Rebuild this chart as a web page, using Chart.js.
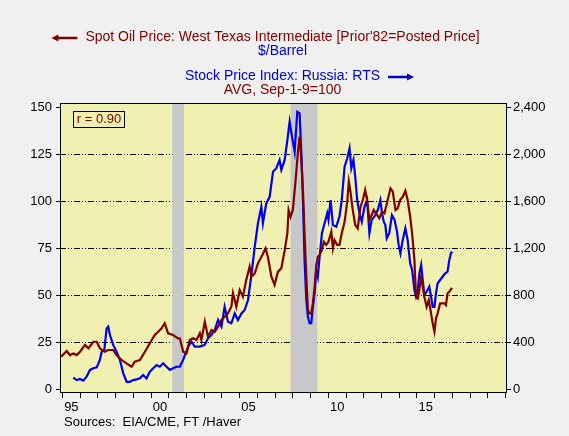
<!DOCTYPE html>
<html>
<head>
<meta charset="utf-8">
<script src="https://cdn.jsdelivr.net/npm/chart.js@4.4.0/dist/chart.umd.min.js"></script>
<style>
  html, body { margin: 0; padding: 0; background: #f0f0f0; }
  #wrap { width: 569px; height: 436px; }
</style>
</head>
<body>
<div id="wrap"><canvas id="oilChart" width="569" height="436"></canvas></div>
<script>
// Spot oil price, WTI, $/barrel (left axis), dates as decimal years
const oilDates = [1994.92, 1995.24, 1995.42, 1995.61, 1995.80, 1995.99, 1996.27, 1996.46, 1996.74, 1996.93,
  1997.11, 1997.39, 1997.58, 1997.86, 1998.05, 1998.33, 1998.61, 1998.90, 1999.08, 1999.37,
  1999.65, 1999.93, 2000.21, 2000.40, 2000.59, 2000.77, 2000.96, 2001.24, 2001.52, 2001.62,
  2001.81, 2002.00, 2002.18, 2002.37, 2002.56, 2002.75, 2002.84, 2003.03, 2003.21, 2003.41,
  2003.59, 2003.78, 2003.97, 2004.15, 2004.34, 2004.53, 2004.62, 2004.81, 2005.00, 2005.18,
  2005.37, 2005.56, 2005.66, 2005.85, 2006.03, 2006.28, 2006.46, 2006.59, 2006.79, 2006.97,
  2007.16, 2007.35, 2007.54, 2007.69, 2007.76, 2007.87, 2008.00, 2008.14, 2008.28, 2008.38,
  2008.48, 2008.57, 2008.66, 2008.76, 2008.85, 2008.94, 2009.04, 2009.13, 2009.23, 2009.32,
  2009.41, 2009.51, 2009.64, 2009.75, 2009.88, 2010.01, 2010.17, 2010.26, 2010.35, 2010.50,
  2010.63, 2010.76, 2010.92, 2011.07, 2011.16, 2011.25, 2011.38, 2011.52, 2011.66, 2011.82,
  2011.95, 2012.08, 2012.19, 2012.32, 2012.45, 2012.56, 2012.69, 2012.88, 2013.04, 2013.17,
  2013.35, 2013.51, 2013.64, 2013.79, 2013.92, 2014.05, 2014.20, 2014.35, 2014.48, 2014.62,
  2014.73, 2014.86, 2014.95, 2015.05, 2015.14, 2015.24, 2015.33, 2015.42, 2015.55, 2015.67,
  2015.80, 2015.89, 2015.99, 2016.08, 2016.17, 2016.31, 2016.42, 2016.55, 2016.64, 2016.73,
  2016.83, 2016.98];
const oilValues = [17.3, 20.4, 18.2, 19.1, 18.2, 20.0, 23.6, 21.8, 25.3, 25.3,
  21.8, 20.0, 20.9, 20.9, 18.2, 15.6, 13.8, 12.0, 14.7, 15.6,
  20.0, 24.5, 28.9, 30.6, 32.4, 35.1, 29.8, 28.9, 27.1, 27.1,
  20.0, 19.1, 26.2, 27.1, 26.2, 29.8, 26.2, 36.0, 28.0, 31.5,
  30.6, 33.3, 36.9, 38.6, 40.4, 43.9, 51.1, 43.9, 52.8, 49.3,
  58.1, 65.2, 59.9, 61.7, 67.0, 71.4, 75.0, 70.5, 59.9, 55.5,
  62.6, 64.4, 74.0, 83.0, 95.4, 91.8, 95.4, 109.6, 125.5, 134.4,
  122.0, 106.0, 83.0, 59.9, 42.2, 40.4, 40.4, 45.7, 54.6, 65.2,
  70.5, 71.4, 74.1, 78.5, 76.8, 78.5, 83.8, 75.0, 79.4, 76.8,
  76.8, 83.0, 89.1, 99.8, 110.4, 105.1, 95.4, 87.4, 85.6, 97.1,
  100.7, 106.0, 100.7, 90.1, 92.7, 95.4, 93.6, 91.0, 94.5, 93.6,
  100.7, 106.9, 105.1, 95.4, 96.3, 100.7, 102.4, 105.6, 100.7, 91.8,
  83.0, 68.8, 49.3, 48.3, 52.8, 59.9, 54.6, 49.3, 43.9, 47.5,
  40.4, 35.1, 30.6, 37.8, 40.4, 45.7, 45.7, 45.7, 44.8, 51.1,
  51.9, 54.0];

// Russia RTS stock index, Sep-1-95 = 100 (right axis)
const rtsDates = [1995.61, 1995.80, 1995.99, 1996.17, 1996.36, 1996.55, 1996.74, 1996.93, 1997.11, 1997.21,
  1997.36, 1997.49, 1997.58, 1997.68, 1997.86, 1997.96, 1998.05, 1998.24, 1998.43, 1998.62,
  1998.80, 1998.99, 1999.18, 1999.37, 1999.55, 1999.74, 1999.93, 2000.12, 2000.31, 2000.49,
  2000.68, 2000.87, 2001.06, 2001.24, 2001.43, 2001.62, 2001.81, 2002.09, 2002.28, 2002.46,
  2002.75, 2003.03, 2003.21, 2003.40, 2003.59, 2003.78, 2003.97, 2004.15, 2004.34, 2004.53,
  2004.72, 2004.90, 2005.10, 2005.28, 2005.47, 2005.66, 2005.85, 2006.03, 2006.22, 2006.31,
  2006.50, 2006.69, 2006.88, 2007.07, 2007.25, 2007.35, 2007.54, 2007.69, 2007.82, 2007.95,
  2008.10, 2008.25, 2008.38, 2008.48, 2008.57, 2008.66, 2008.76, 2008.85, 2008.94, 2009.04,
  2009.13, 2009.23, 2009.32, 2009.41, 2009.51, 2009.64, 2009.79, 2009.94, 2010.01, 2010.13,
  2010.26, 2010.45, 2010.63, 2010.76, 2010.92, 2011.07, 2011.20, 2011.30, 2011.42, 2011.52,
  2011.63, 2011.76, 2011.89, 2012.04, 2012.19, 2012.32, 2012.45, 2012.60, 2012.79, 2012.94,
  2013.03, 2013.13, 2013.22, 2013.30, 2013.44, 2013.59, 2013.74, 2013.88, 2013.97, 2014.07,
  2014.20, 2014.35, 2014.48, 2014.62, 2014.73, 2014.86, 2014.95, 2015.05, 2015.14, 2015.24,
  2015.33, 2015.42, 2015.55, 2015.70, 2015.80, 2015.89, 2015.99, 2016.08, 2016.17, 2016.31,
  2016.45, 2016.60, 2016.73, 2016.83, 2016.92, 2017.00];
const rtsValues = [99, 78, 88, 74, 107, 165, 179, 187, 250, 320,
  334, 518, 533, 462, 378, 349, 320, 250, 136, 64,
  64, 78, 85, 93, 122, 93, 150, 179, 206, 192,
  221, 192, 165, 179, 192, 192, 250, 363, 405, 363,
  363, 378, 434, 462, 504, 590, 533, 702, 576, 562,
  646, 590, 646, 675, 760, 973, 1214, 1413, 1554, 1413,
  1582, 1638, 1851, 1882, 1952, 1867, 1952, 2122, 2277, 2150,
  2022, 2363, 2349, 2008, 1611, 1101, 760, 618, 562, 562,
  702, 818, 1016, 958, 1128, 1328, 1413, 1498, 1442, 1611,
  1398, 1384, 1469, 1611, 1894, 1966, 2051, 1882, 1952, 1810,
  1611, 1498, 1426, 1554, 1611, 1328, 1442, 1469, 1526, 1611,
  1498, 1426, 1398, 1285, 1328, 1483, 1442, 1341, 1229, 1157,
  1270, 1370, 1270, 1072, 1016, 845, 789, 845, 987, 1058,
  930, 803, 830, 874, 789, 702, 702, 818, 902, 930,
  958, 987, 1002, 1101, 1157, 1171];

// US recessions (shaded), decimal years
const recessions = [[2001.19, 2001.85], [2007.87, 2009.38]];

// axis ticks
const yearTicks = [1995, 1996, 1997, 1998, 1999, 2000, 2001, 2002, 2003, 2004, 2005, 2006, 2007,
  2008, 2009, 2010, 2011, 2012, 2013, 2014, 2015, 2016, 2017, 2018, 2019, 2020];
const yearLabels = { 1995: '95', 2000: '00', 2005: '05', 2010: '10', 2015: '15' };
const oilTicks = [0, 25, 50, 75, 100, 125, 150];
const rtsTicks = [0, 400, 800, 1200, 1600, 2000, 2400];

const DARKRED = '#800000';
const BLUE = '#0000cc';
const PLOTBG = '#f0f0b0';
const FONT = '"Liberation Sans", Arial, sans-serif';

function toPoints(dates, values) {
    return dates.map((d, i) => ({ x: d, y: values[i] }));
}

function arrow(ctx, x1, x2, y, color, headLeft) {
    ctx.save();
    ctx.strokeStyle = color;
    ctx.fillStyle = color;
    ctx.lineWidth = 2.5;
    ctx.beginPath();
    ctx.moveTo(headLeft ? x1 + 5 : x1, y);
    ctx.lineTo(headLeft ? x2 : x2 - 5, y);
    ctx.stroke();
    ctx.beginPath();
    if (headLeft) {
        ctx.moveTo(x1, y); ctx.lineTo(x1 + 7, y - 3.5); ctx.lineTo(x1 + 7, y + 3.5);
    } else {
        ctx.moveTo(x2, y); ctx.lineTo(x2 - 7, y - 3.5); ctx.lineTo(x2 - 7, y + 3.5);
    }
    ctx.closePath();
    ctx.fill();
    ctx.restore();
}

const decorPlugin = {
    id: 'decor',
    beforeDraw(chart) {
        const { ctx, chartArea: a } = chart;
        ctx.save();
        ctx.fillStyle = '#f0f0f0';
        ctx.fillRect(0, 0, chart.width, chart.height);
        ctx.fillStyle = PLOTBG;
        ctx.fillRect(a.left, a.top, a.right - a.left, a.bottom - a.top);
        ctx.restore();
    },
    beforeDatasetsDraw(chart) {
        const { ctx, chartArea: a, scales } = chart;
        ctx.save();
        ctx.fillStyle = '#c8c8c8';
        recessions.forEach(([s, e]) => {
            const x1 = scales.x.getPixelForValue(s);
            const x2 = scales.x.getPixelForValue(e);
            ctx.fillRect(x1, a.top, x2 - x1, a.bottom - a.top);
        });
        ctx.restore();
    },
    afterDraw(chart) {
        const { ctx, chartArea: a } = chart;
        ctx.save();
        // plot frame
        ctx.strokeStyle = '#000';
        ctx.lineWidth = 1;
        ctx.strokeRect(a.left + 0.5, a.top + 0.5, a.right - a.left - 1, a.bottom - a.top - 1);

        // titles
        const cx = 282.5;
        ctx.font = '14px ' + FONT;
        ctx.textAlign = 'center';
        ctx.textBaseline = 'middle';
        const t1 = "Spot Oil Price: West Texas Intermediate [Prior'82=Posted Price]";
        const t3 = 'Stock Price Index: Russia: RTS';
        ctx.fillStyle = DARKRED;
        ctx.fillText(t1, cx, 37.5);
        const w1 = ctx.measureText(t1).width;
        arrow(ctx, cx - w1 / 2 - 34, cx - w1 / 2 - 8, 38, DARKRED, true);
        ctx.fillStyle = BLUE;
        ctx.fillText('$/Barrel', cx, 51.5);
        ctx.fillText(t3, cx, 76.5);
        const w3 = ctx.measureText(t3).width;
        arrow(ctx, cx + w3 / 2 + 8, cx + w3 / 2 + 34, 77, BLUE, false);
        ctx.fillStyle = DARKRED;
        ctx.fillText('AVG, Sep-1-9=100', cx, 90.5);

        // correlation box
        ctx.fillStyle = PLOTBG;
        ctx.fillRect(73.5, 111.5, 51, 16);
        ctx.strokeRect(73.5, 111.5, 51, 16);
        ctx.fillStyle = DARKRED;
        ctx.font = '13px ' + FONT;
        ctx.fillText('r = 0.90', 99, 119.5);

        // sources
        ctx.fillStyle = '#000';
        ctx.textAlign = 'left';
        ctx.fillText('Sources:  EIA/CME, FT /Haver', 64, 422);
        ctx.restore();
    }
};

const tickFont = { family: FONT, size: 13 };

new Chart(document.getElementById('oilChart'), {
    type: 'line',
    data: {
        datasets: [
            {
                label: 'Spot Oil Price: WTI',
                data: toPoints(oilDates, oilValues),
                yAxisID: 'y',
                borderColor: DARKRED,
                borderWidth: 2.2,
                pointRadius: 0,
                tension: 0,
                fill: false
            },
            {
                label: 'RTS',
                data: toPoints(rtsDates, rtsValues),
                yAxisID: 'y2',
                borderColor: '#0000ee',
                borderWidth: 2.2,
                pointRadius: 0,
                tension: 0,
                fill: false
            }
        ]
    },
    options: {
        responsive: false,
        animation: false,
        devicePixelRatio: 1,
        layout: { padding: { top: 103, left: 0, right: 0, bottom: 0 } },
        plugins: { legend: { display: false }, tooltip: { enabled: false } },
        scales: {
            x: {
                type: 'linear',
                min: 1994.859,
                max: 2020.085,
                afterBuildTicks: s => { s.ticks = yearTicks.map(v => ({ value: v })); },
                afterFit: s => { s.height = 43; },
                grid: { drawOnChartArea: false, drawTicks: true, tickLength: 5, tickColor: '#000' },
                border: { display: false },
                ticks: {
                    autoSkip: false, maxRotation: 0, labelOffset: 8.86, padding: 2,
                    color: '#000', font: tickFont,
                    callback: v => yearLabels[v] || ''
                }
            },
            y: {
                type: 'linear',
                position: 'left',
                min: -1.97,
                max: 152.3,
                afterBuildTicks: s => { s.ticks = oilTicks.map(v => ({ value: v })); },
                afterFit: s => { s.width = 60; },
                grid: {
                    color: c => (c.tick && c.tick.value > 0 && c.tick.value < 150) ? '#000' : 'rgba(0,0,0,0)',
                    lineWidth: 1,
                    tickLength: 4,
                    tickColor: '#000'
                },
                border: { display: false, dash: [6, 2, 1, 2, 1, 2] },
                ticks: { color: '#000', padding: 4, font: tickFont }
            },
            y2: {
                type: 'linear',
                position: 'right',
                min: -31.5,
                max: 2436.8,
                afterBuildTicks: s => { s.ticks = rtsTicks.map(v => ({ value: v })); },
                afterFit: s => { s.width = 62; },
                grid: { drawOnChartArea: false, tickLength: 4, tickColor: '#000' },
                border: { display: false },
                ticks: { color: '#000', padding: 2, font: tickFont, callback: v => v.toLocaleString('en-US') }
            }
        }
    },
    plugins: [decorPlugin]
});
</script>
</body>
</html>
